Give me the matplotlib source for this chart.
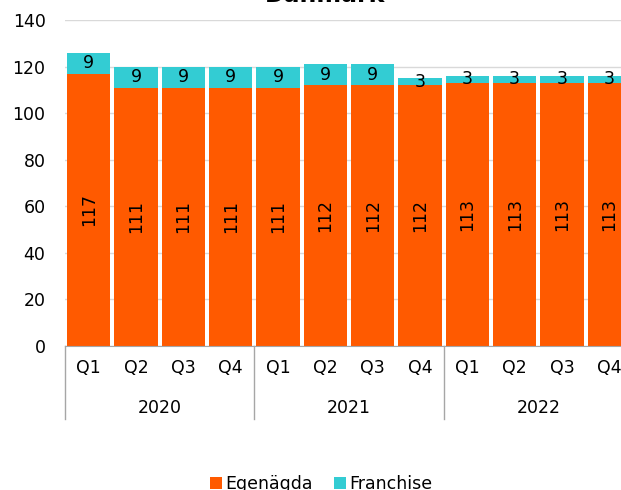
import matplotlib.pyplot as plt
import matplotlib.transforms as mtransforms

# data
quarters = ['Q1', 'Q2', 'Q3', 'Q4'] * 3
years = ['2020', '2021', '2022']
egenagda = [117, 111, 111, 111, 111, 112, 112, 112, 113, 113, 113, 113]
franchise = [9, 9, 9, 9, 9, 9, 9, 3, 3, 3, 3, 3]

orange = '#FF5A00'
cyan = '#33CCD3'
W, H = 621, 490
fs = 12.5

fig = plt.figure(figsize=(W / 100, H / 100), dpi=100)
ax = fig.add_axes([65 / W, 1 - 346 / H, 568 / W, 326 / H])

x = list(range(len(quarters)))
ax.bar(x, egenagda, width=0.92, color=orange, label='Egenägda', zorder=2)
ax.bar(x, franchise, width=0.92, bottom=egenagda, color=cyan, label='Franchise', zorder=2)

# value labels
for i in x:
    ax.text(i, egenagda[i] / 2, str(egenagda[i]), rotation=90, ha='center', va='center',
            fontsize=fs, zorder=3)
    ax.text(i, egenagda[i] + franchise[i] / 2, str(franchise[i]), ha='center', va='center',
            fontsize=fs, zorder=3)

ax.set_xlim(-0.5, 11.5)
ax.set_ylim(0, 140)
ax.set_yticks(range(0, 141, 20))
ax.yaxis.grid(True, color='#D9D9D9', linewidth=1, zorder=0)
ax.set_axisbelow(True)
ax.tick_params(axis='y', length=0, labelsize=fs, pad=14)
ax.set_xticks(x)
ax.set_xticklabels(quarters)
ax.tick_params(axis='x', length=0, labelsize=fs, pad=9)
for s in ['left', 'right', 'top']:
    ax.spines[s].set_visible(False)
ax.spines['bottom'].set_color('#A6A6A6')

# year grouping
trans = mtransforms.blended_transform_factory(ax.transData, ax.transAxes)
for b in [-0.5, 3.5, 7.5, 11.5]:
    ax.plot([b, b], [0, -73 / 326], transform=trans, color='#A6A6A6', lw=1, clip_on=False)
for k, yr in enumerate(years):
    ax.text(4 * k + 1.5, -62 / 326, yr, transform=trans, ha='center', va='center', fontsize=fs)

fig.text(325 / W, 1 - 7 / H, 'Danmark', ha='center', va='bottom', fontsize=17, fontweight='bold')

fig.legend(loc='center', bbox_to_anchor=(321 / W, 1 - 484 / H), ncol=2, frameon=False,
           fontsize=fs, handlelength=0.7, handleheight=0.7, handletextpad=0.2, columnspacing=1.2)

fig.savefig('out.png', dpi=100)
